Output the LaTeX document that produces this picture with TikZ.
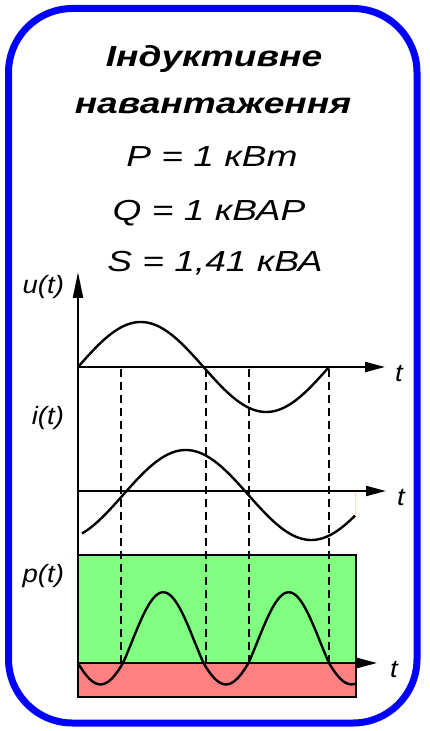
\documentclass[tikz,border=0pt]{standalone}
\usepackage{fontspec}
\setmainfont{Liberation Sans}[FakeStretch=1.28]
\newfontfamily\axisfont{Liberation Sans}[FakeStretch=1.1]
\usetikzlibrary{arrows.meta}
\definecolor{frameblue}{RGB}{0, 0, 255}
\definecolor{posgreen}{RGB}{128, 255, 128}
\definecolor{negred}{RGB}{255, 128, 128}

\begin{document}
\begin{tikzpicture}[x=0.5pt, y=-0.5pt,
    curve/.style={line width=1.2pt, black, line join=round},
    axis/.style={line width=1pt, -{Triangle[length=10pt, width=5pt]}},
    guide/.style={line width=0.6pt, dash pattern=on 4pt off 2.5pt},
    head/.style={font=\fontsize{14.5}{16}\selectfont\itshape, anchor=base},
    sig/.style={font=\axisfont\fontsize{12.5}{14}\selectfont\itshape, anchor=base east},
    tlbl/.style={font=\axisfont\fontsize{12.5}{14}\selectfont\itshape, anchor=base west}]

\useasboundingbox (0,0) rectangle (429,731);

% ============================================================
% RAMKA
% ============================================================
\draw[frameblue, line width=3.5pt, rounded corners=32pt] (8.5,8.5) rectangle (417,723);

% ============================================================
% ЗАГОЛОВОК
% ============================================================
\node[head, font=\fontsize{14.5}{16}\selectfont\bfseries\itshape] (title-a) at (214,67) {Індуктивне};
\node[head, font=\fontsize{14.5}{16}\selectfont\bfseries\itshape] (title-b) at (213,114) {навантаження};
\node[head] (val-p) at (212,167) {P = 1 кВт};
\node[head] (val-q) at (209,221) {Q = 1 кВАР};
\node[head] (val-s) at (215,272) {S = 1,41 кВА};

% ============================================================
% p(t): площі
% ============================================================
\fill[negred] (78,663) rectangle (356,697);
\fill[posgreen] (78,555) rectangle (356,663);
\draw[line width=1pt] (78,555) rectangle (356,697);

% Пунктирні лінії нулів
\foreach \xd in {121,206,249,329}
    \draw[guide] (\xd,369) -- (\xd,663);

% ============================================================
% ОСІ
% ============================================================
\draw[line width=1pt, -{Triangle[length=13pt, width=5pt]}] (78,697) -- (78,272);
\draw[axis] (78,367) -- (385,367);
\draw[axis] (78,491) -- (386,491);
\draw[axis] (356,663) -- (377,663);
\draw[line width=1pt] (78,663) -- (356,663);

% Жовта риска
\draw[yellow!70, line width=0.5pt] (355,492) -- (355,516);

% ============================================================
% КРИВІ (період 251 px, 360/251 = 1.43426)
% ============================================================
% u(t)
\draw[curve] plot[domain=78:329, samples=120, smooth] (\x, {367-45*sin((\x-78)*1.43426)});
% i(t)
\draw[curve] plot[domain=82:355, samples=120, smooth] (\x, {495-45*sin((\x-123)*1.43426)});
% p(t)
\draw[curve] plot[domain=79:355, samples=160, smooth]
    (\x, {663-99*max(sin((\x-78)*1.43426)*sin((\x-123)*1.43426),0)
              -75*min(sin((\x-78)*1.43426)*sin((\x-123)*1.43426),0)});

% ============================================================
% ПІДПИСИ
% ============================================================
\node[sig] (lbl-u) at (71,293) {u(t)};
\node[sig] (lbl-i) at (71,424) {i(t)};
\node[sig] (lbl-p) at (71,582) {p(t)};
\node[tlbl] (t-u) at (388,381) {t};
\node[tlbl] (t-i) at (390,505) {t};
\node[tlbl] (t-p) at (383,677) {t};

\end{tikzpicture}
\end{document}
